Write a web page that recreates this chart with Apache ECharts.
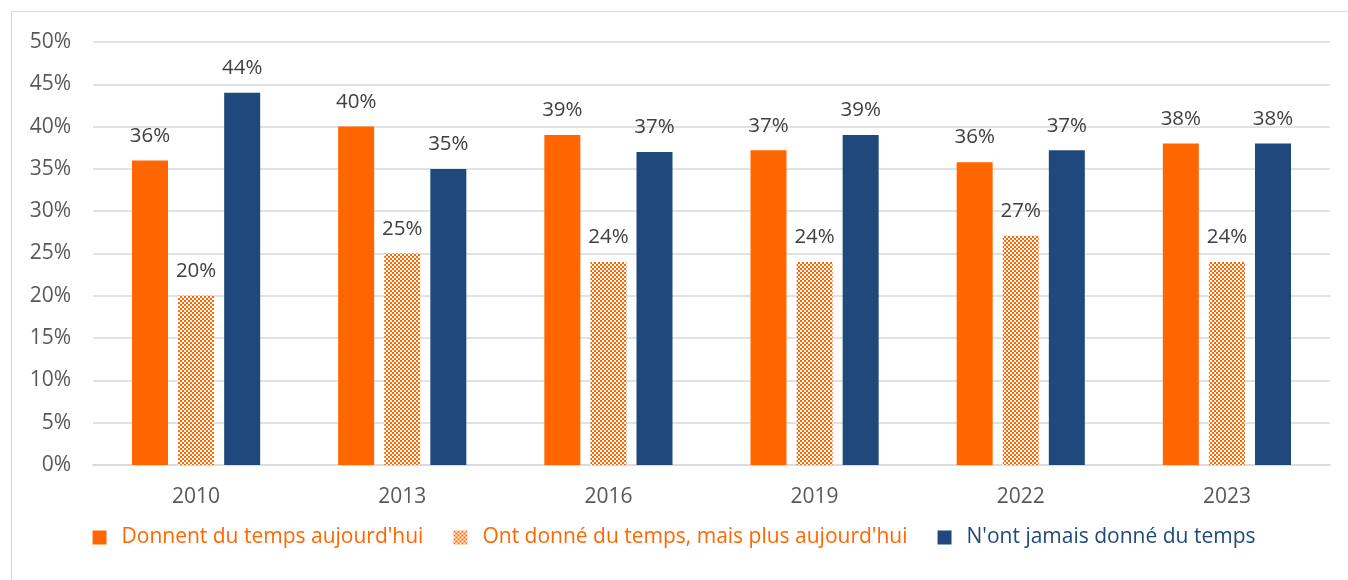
<!DOCTYPE html>
<html>
<head>
<meta charset="utf-8">
<script src="https://cdn.jsdelivr.net/npm/echarts@6/dist/echarts.min.js"></script>
<style>
  html, body { margin: 0; padding: 0; background: #fff; }
  #chart { width: 1348px; height: 580px; }
  #frame { position: absolute; left: 11px; top: 11px; width: 1345px; height: 580px; border: 1.5px solid #d9d9d9; box-sizing: border-box; pointer-events: none; }
</style>
</head>
<body>
<div id="chart"></div>
<div id="frame"></div>
<script>
const years = ['2010', '2013', '2016', '2019', '2022', '2023'];
const seriesNames = [
  "Donnent du temps aujourd'hui",
  "Ont donné du temps, mais plus aujourd'hui",
  "N'ont jamais donné du temps"
];
const donnent = [36, 40, 39, 37.2, 35.8, 38];
const plusAujourdhui = [20, 25, 24, 24, 27.1, 24];
const jamais = [44, 35, 37, 39, 37.2, 38];

const ORANGE = '#ff6600';
const BLUE = '#1f497d';
const FONT = '"Open Sans", Lato, sans-serif';

// small checker tile for the "no longer" series
function checker() {
  const c = document.createElement('canvas');
  c.width = 4; c.height = 4;
  const ctx = c.getContext('2d');
  ctx.fillStyle = '#ffffff';
  ctx.fillRect(0, 0, 4, 4);
  ctx.fillStyle = ORANGE;
  ctx.fillRect(0, 0, 2, 2);
  ctx.fillRect(2, 2, 2, 2);
  return c;
}
const pattern = { image: checker(), repeat: 'repeat' };

const chart = echarts.init(document.getElementById('chart'));

const label = {
  show: true,
  position: 'top',
  distance: 14,
  color: '#404040',
  fontSize: 20.5,
  fontFamily: FONT,
  formatter: p => Math.round(p.value) + '%'
};

chart.setOption({
  animation: false,
  textStyle: { fontFamily: FONT },
  grid: { left: 93, right: 18, top: 42, bottom: 115 },
  legend: {
    bottom: 27,
    left: 'center',
    itemWidth: 14,
    itemHeight: 14,
    itemGap: 30,
    icon: 'rect',
    textStyle: { fontSize: 21, fontFamily: FONT, padding: [0, 0, 0, 10] },
    data: [
      { name: seriesNames[0], textStyle: { color: ORANGE } },
      { name: seriesNames[1], textStyle: { color: ORANGE } },
      { name: seriesNames[2], textStyle: { color: BLUE } }
    ]
  },
  xAxis: {
    type: 'category',
    data: years,
    axisTick: { show: false },
    axisLine: { lineStyle: { color: '#d9d9d9', width: 1.5 } },
    axisLabel: { color: '#595959', fontSize: 21, margin: 22 }
  },
  yAxis: {
    type: 'value',
    min: 0,
    max: 50,
    interval: 5,
    axisLabel: { color: '#595959', fontSize: 21, margin: 22, formatter: '{value}%' },
    splitLine: { lineStyle: { color: '#d9d9d9', width: 1.5 } }
  },
  series: [
    { name: seriesNames[0], type: 'bar', data: donnent, barWidth: 36, barGap: '28%',
      itemStyle: { color: ORANGE }, label },
    { name: seriesNames[1], type: 'bar', data: plusAujourdhui, barWidth: 36,
      itemStyle: { color: pattern }, label },
    { name: seriesNames[2], type: 'bar', data: jamais, barWidth: 36,
      itemStyle: { color: BLUE }, label }
  ]
});
</script>
</body>
</html>
